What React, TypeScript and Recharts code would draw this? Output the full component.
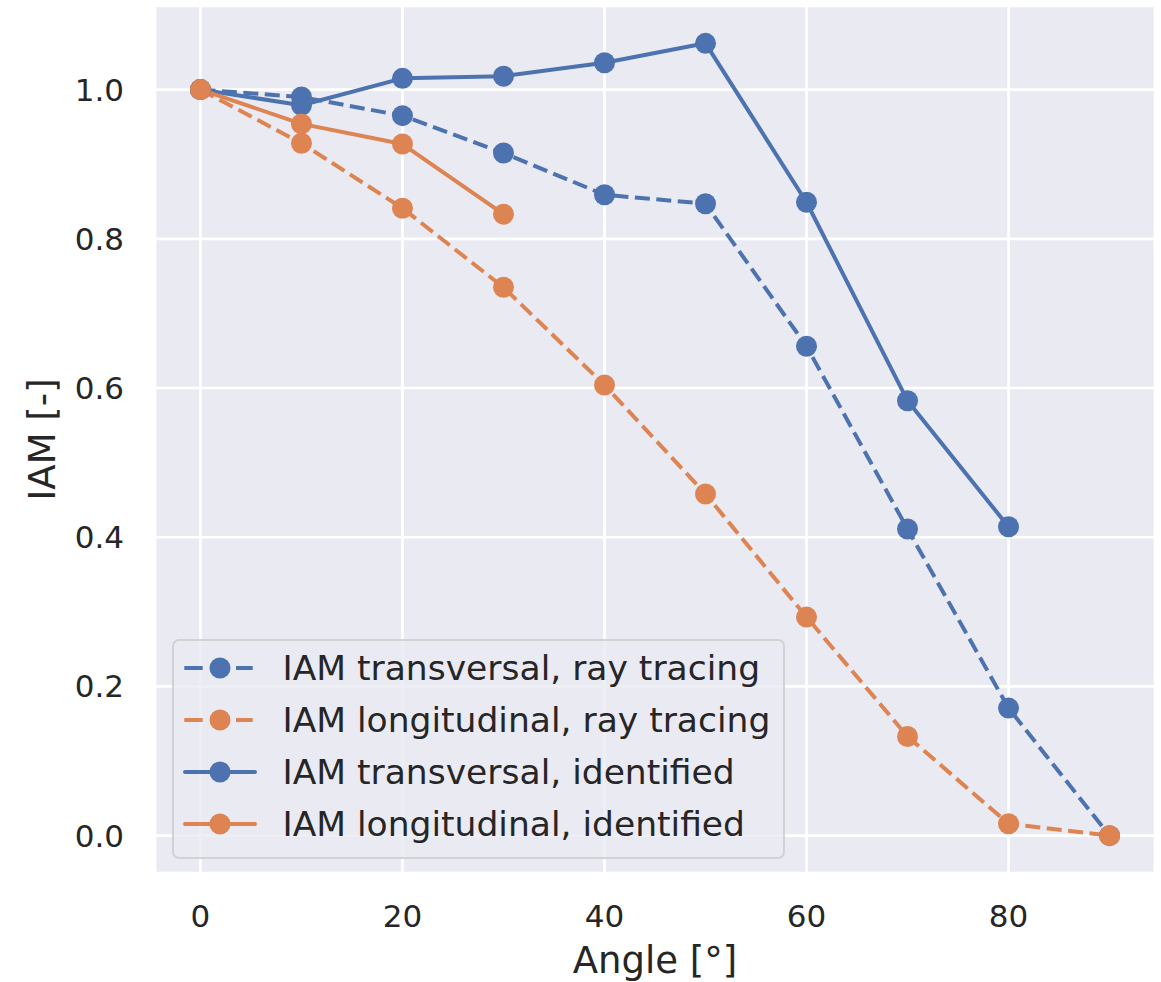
import React from 'react';
import { LineChart, Line, XAxis, YAxis, CartesianGrid, Legend, Label } from 'recharts';

// incidence angle modifier vs. angle
const angles = [0, 10, 20, 30, 40, 50, 60, 70, 80, 90];
const transversalRayTracing = [1.0, 0.99, 0.965, 0.915, 0.859, 0.847, 0.656, 0.411, 0.171, 0.0];
const longitudinalRayTracing = [1.0, 0.928, 0.841, 0.735, 0.604, 0.458, 0.293, 0.133, 0.016, 0.0];
const transversalIdentified = [1.0, 0.979, 1.015, 1.018, 1.036, 1.062, 0.849, 0.583, 0.414];
const longitudinalIdentified = [1.0, 0.954, 0.927, 0.833];

const xTicks = [0, 20, 40, 60, 80];
const yTicks = [0, 0.2, 0.4, 0.6, 0.8, 1.0];

const BLUE = '#4C72B0';
const ORANGE = '#DD8452';
const TEXT = '#262626';
const BG = '#EAEAF2';
const FONT = '"DejaVu Sans", sans-serif';

const series = [
  { key: 'tRT', name: 'IAM transversal, ray tracing', color: BLUE, dashed: true },
  { key: 'lRT', name: 'IAM longitudinal, ray tracing', color: ORANGE, dashed: true },
  { key: 'tId', name: 'IAM transversal, identified', color: BLUE, dashed: false },
  { key: 'lId', name: 'IAM longitudinal, identified', color: ORANGE, dashed: false },
];

const data = angles.map((a, i) => ({
  angle: a,
  tRT: transversalRayTracing[i],
  lRT: longitudinalRayTracing[i],
  tId: transversalIdentified[i],
  lId: longitudinalIdentified[i],
}));

const renderLegend = () => (
  <div
    style={{
      boxSizing: 'border-box',
      width: 613,
      height: 220,
      border: '2.5px solid rgba(204,204,204,0.8)',
      borderRadius: 7,
      background: 'rgba(234,234,242,0.8)',
      paddingTop: 1.6,
      paddingLeft: 8.5,
      fontFamily: FONT,
      fontSize: 34.5,
      color: TEXT,
    }}
  >
    {series.map((s) => (
      <div key={s.key} style={{ display: 'flex', alignItems: 'center', height: 51.7 }}>
        <svg width={74} height={24} style={{ marginRight: 26, flex: 'none' }}>
          {s.dashed ? (
            <>
              <line x1={1.3} x2={19.7} y1={12} y2={12} stroke={s.color} strokeWidth={4} />
              <line x1={53} x2={69.7} y1={12} y2={12} stroke={s.color} strokeWidth={4} />
            </>
          ) : (
            <line x1={2} x2={72} y1={12} y2={12} stroke={s.color} strokeWidth={4} strokeLinecap="round" />
          )}
          <circle cx={37} cy={12} r={10.5} fill={s.color} />
        </svg>
        <span style={{ whiteSpace: 'nowrap', lineHeight: 'normal' }}>{s.name}</span>
      </div>
    ))}
  </div>
);

const tickStyle = { fill: TEXT, fontSize: 31, fontFamily: FONT };

export default function App() {
  return (
    <div style={{ position: 'absolute', left: 0, top: 0, background: '#fff' }}>
      <LineChart width={1161} height={982} data={data} margin={{ top: 6, right: 6, bottom: 0, left: 10 }}>
        <CartesianGrid fill={BG} stroke="#FFFFFF" strokeWidth={2.7} />
        <XAxis
          dataKey="angle"
          type="number"
          domain={[-4.5, 94.5]}
          ticks={xTicks}
          axisLine={false}
          tickLine={false}
          tickSize={0}
          tickMargin={32}
          height={109}
          tick={tickStyle}
          allowDataOverflow
        >
          <Label
            value="Angle [°]"
            position="insideBottom"
            offset={9}
            style={{ fill: TEXT, fontSize: 37, fontFamily: FONT }}
          />
        </XAxis>
        <YAxis
          type="number"
          domain={[-0.05, 1.112]}
          ticks={yTicks}
          tickFormatter={(v: number) => v.toFixed(1)}
          axisLine={false}
          tickLine={false}
          tickSize={0}
          tickMargin={31}
          width={145}
          tick={tickStyle}
          allowDataOverflow
        >
          <Label
            content={(props: any) => {
              const vb = props.viewBox || { x: 10, y: 6, width: 145, height: 867 };
              const x = vb.x + 45;
              const y = vb.y + vb.height / 2;
              return (
                <text
                  x={x}
                  y={y}
                  transform={`rotate(-90 ${x} ${y})`}
                  textAnchor="middle"
                  fill={TEXT}
                  fontSize={37}
                  fontFamily={FONT}
                >
                  IAM [-]
                </text>
              );
            }}
          />
        </YAxis>
        {series.map((s) => (
          <Line
            key={s.key}
            dataKey={s.key}
            name={s.name}
            stroke={s.color}
            strokeWidth={4}
            strokeDasharray={s.dashed ? '15 6.5' : undefined}
            strokeLinecap={s.dashed ? 'butt' : 'round'}
            strokeLinejoin="round"
            dot={{ r: 10.5, fill: s.color, stroke: 'none', strokeWidth: 0 }}
            activeDot={false}
            isAnimationActive={false}
          />
        ))}
        <Legend
          content={renderLegend}
          layout="vertical"
          align="center"
          verticalAlign="middle"
          wrapperStyle={{ left: 172, top: 639, width: 613, height: 220 }}
        />
      </LineChart>
    </div>
  );
}
